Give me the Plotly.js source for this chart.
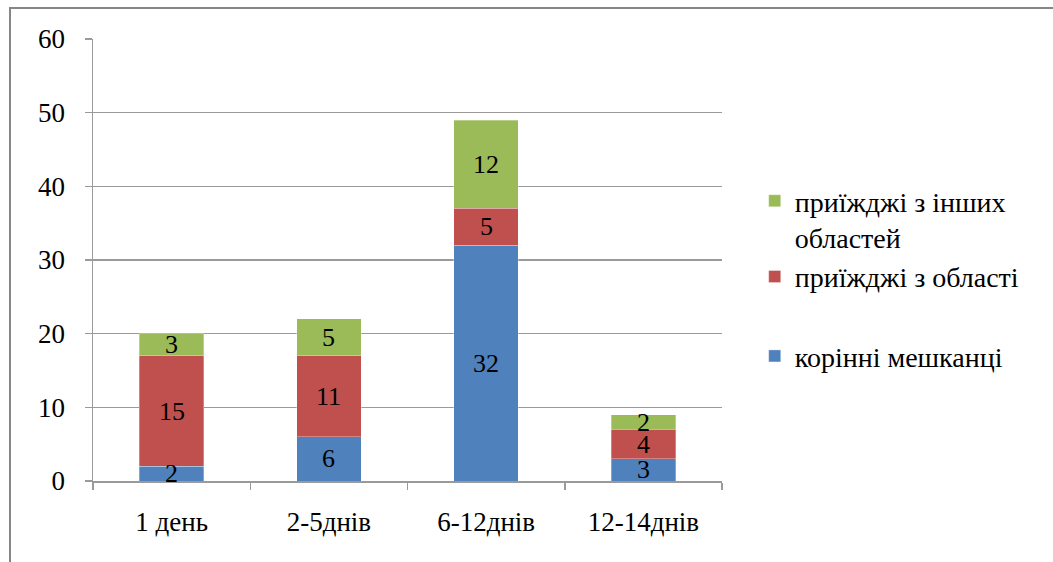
<!DOCTYPE html>
<html>
<head>
<meta charset="utf-8">
<script src="https://cdn.plot.ly/plotly-3.0.1.min.js"></script>
<style>
  html, body { margin: 0; padding: 0; background: #fff; overflow: hidden; }
  #chart { width: 1053px; height: 562px; position: absolute; left: 0; top: 0; }
  #frame { position: absolute; left: 9px; top: 7px; width: 1100px; height: 600px;
           border: 2px solid #868686; pointer-events: none; box-sizing: border-box; }
</style>
</head>
<body>
<div id="chart"></div>
<div id="frame"></div>
<script>
const categories = ['1 день', '2-5днів', '6-12днів', '12-14днів'];
const seriesNames = ['корінні мешканці', 'приїжджі з області', 'приїжджі з інших<br>областей'];
const native = [2, 6, 32, 3];
const fromRegion = [15, 11, 5, 4];
const fromOther = [3, 5, 12, 2];
const colors = ['#4F81BD', '#C0504D', '#9BBB59'];
const groups = ['b', 'a', 'a'];
const ranks = [3, 2, 1];

const FONT = '"Liberation Serif", "Times New Roman", serif';
const allSeries = [native, fromRegion, fromOther];

const traces = allSeries.map((vals, i) => ({
  type: 'bar',
  name: seriesNames[i],
  x: categories,
  y: vals,
  marker: { color: colors[i], line: { color: 'rgba(255,255,255,0.5)', width: 0.6 } },
  legendgroup: groups[i],
  legendrank: ranks[i],
  hoverinfo: 'none'
}));

// value labels centred in each stacked segment
const annotations = [];
categories.forEach((cat, j) => {
  let base = 0;
  allSeries.forEach((vals) => {
    annotations.push({
      x: cat, y: base + vals[j] / 2, xref: 'x', yref: 'y',
      text: String(vals[j]), showarrow: false,
      font: { family: FONT, size: 26, color: '#000' },
      xanchor: 'center', yanchor: 'middle'
    });
    base += vals[j];
  });
});

const layout = {
  width: 1053,
  height: 562,
  barmode: 'stack',
  bargap: 0.59,
  paper_bgcolor: 'rgba(0,0,0,0)',
  plot_bgcolor: 'rgba(0,0,0,0)',
  margin: { l: 93, r: 331, t: 39, b: 81 },
  font: { family: FONT, size: 27, color: '#000' },
  showlegend: true,
  annotations: annotations,
  legend: {
    x: 1.052, xanchor: 'left',
    y: 0.69, yanchor: 'top',
    traceorder: 'grouped',
    valign: 'top',
    tracegroupgap: 40,
    font: { family: FONT, size: 28, color: '#000' },
    bgcolor: 'rgba(0,0,0,0)'
  },
  xaxis: {
    type: 'category',
    showline: true, linecolor: '#9a9a9a', linewidth: 1.5,
    ticks: 'outside', tickson: 'boundaries', ticklen: 7, tickcolor: '#9a9a9a', tickwidth: 1.5,
    showgrid: false,
    ticklabelstandoff: 16,
    tickfont: { family: FONT, size: 27, color: '#000' }
  },
  yaxis: {
    range: [0, 60], dtick: 10, tick0: 0,
    showline: true, linecolor: '#9a9a9a', linewidth: 1.5,
    ticks: 'outside', ticklen: 7, tickcolor: '#9a9a9a', tickwidth: 1.5,
    showgrid: true, gridcolor: '#9a9a9a', gridwidth: 1.5,
    zeroline: false,
    ticklabelstandoff: 14,
    tickfont: { family: FONT, size: 27, color: '#000' }
  }
};

Plotly.newPlot('chart', traces, layout, { staticPlot: true, displayModeBar: false });
</script>
</body>
</html>
